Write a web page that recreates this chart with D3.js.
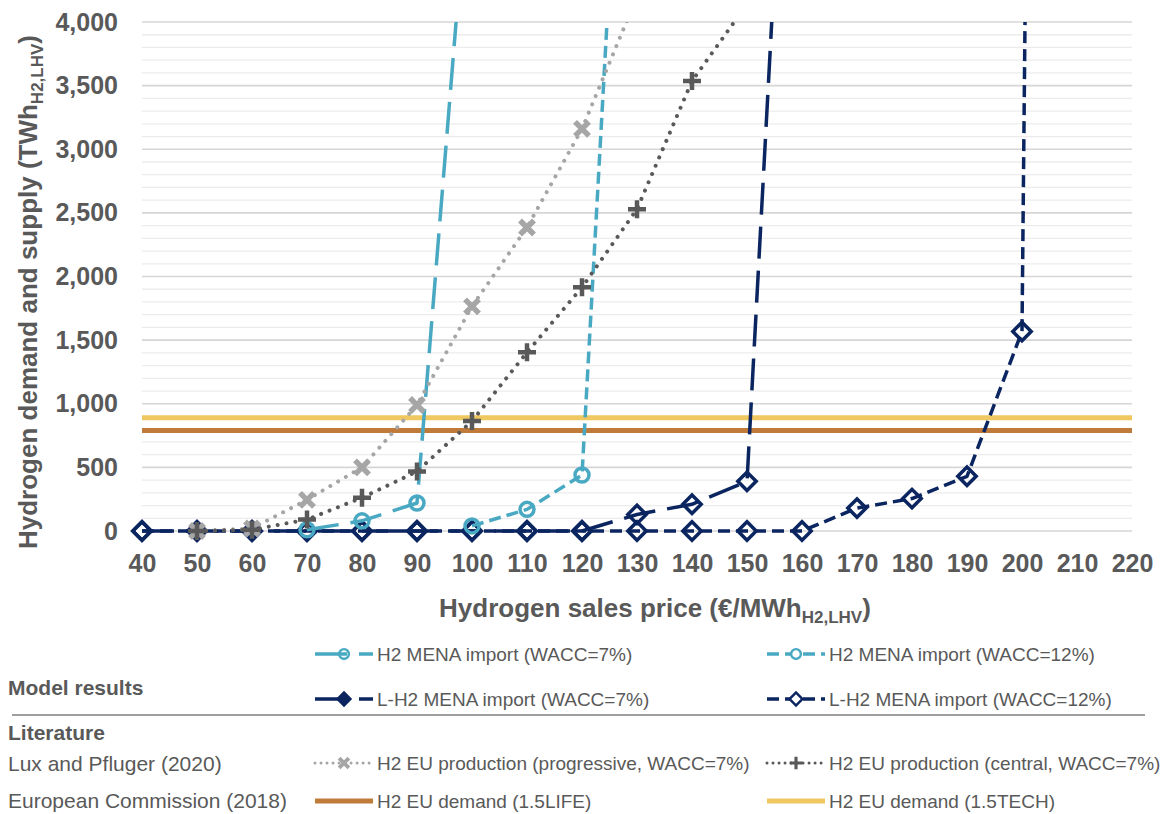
<!DOCTYPE html>
<html>
<head>
<meta charset="utf-8">
<script src="https://cdn.jsdelivr.net/npm/d3@7"></script>
<style>
  body { margin: 0; background: #fff; }
  text { font-family: "Liberation Sans", Arial, sans-serif; }
</style>
</head>
<body>
<svg id="chart" width="1176" height="814"></svg>
<script>
// ---- data ----------------------------------------------------------------
const priceTicks = d3.range(40, 221, 10);          // €/MWh
const volumeTicks = d3.range(0, 4001, 500);         // TWh
const minorVolumeTicks = d3.range(0, 4001, 100);

// H2 MENA import (WACC=7%)
const menaH2w7Price = [70, 80, 90, 100];
const menaH2w7 = [10, 80, 220, 5540];
// H2 MENA import (WACC=12%)
const menaH2w12Price = [100, 110, 120, 130];
const menaH2w12 = [40, 170, 440, 8260];
// L-H2 MENA import (WACC=7%)
const menaLH2w7Price = [40, 50, 60, 70, 80, 90, 100, 110, 120, 130, 140, 150, 160];
const menaLH2w7 = [0, 0, 0, 0, 0, 0, 0, 0, 0, 130, 210, 390, 8420];
// L-H2 MENA import (WACC=12%)
const menaLH2w12Price = [40, 50, 60, 70, 80, 90, 100, 110, 120, 130, 140, 150, 160, 170, 180, 190, 200, 210];
const menaLH2w12 = [0, 0, 0, 0, 0, 0, 0, 0, 0, 0, 0, 0, 0, 180, 255, 430, 1568, 46000];
// Lux and Pfluger (2020): H2 EU production, progressive
const euProgPrice = [50, 60, 70, 80, 90, 100, 110, 120, 130];
const euProg = [0, 20, 245, 500, 990, 1765, 2385, 3160, 4200];
// Lux and Pfluger (2020): H2 EU production, central
const euCentralPrice = [50, 60, 70, 80, 90, 100, 110, 120, 130, 140, 150];
const euCentral = [0, 10, 90, 262, 468, 864, 1404, 1915, 2529, 3536, 4140];
// European Commission (2018): H2 EU demand
const demandLife = 790;   // 1.5LIFE
const demandTech = 890;   // 1.5TECH

// ---- colours ---------------------------------------------------------------
const teal = "#4aa9c2", navy = "#0b2560", greyLight = "#a6a6a6", greyDark = "#595959";
const brown = "#c07b3a", gold = "#f0c862", labelGrey = "#595959";

const svg = d3.select("#chart");
const x = d3.scaleLinear().domain([40, 220]).range([142, 1132]);
const y = d3.scaleLinear().domain([0, 4000]).range([531, 22]);

svg.append("defs").append("clipPath").attr("id", "plotClip")
  .append("rect").attr("x", 0).attr("y", y(4000)).attr("width", 1176).attr("height", 600);

// ---- gridlines ------------------------------------------------------------
svg.append("g")
  .selectAll("line").data(minorVolumeTicks.filter(v => v % 500 !== 0)).join("line")
  .attr("x1", x(40)).attr("x2", x(220))
  .attr("y1", d => y(d)).attr("y2", d => y(d))
  .attr("stroke", "#ececec").attr("stroke-width", 1.3);
svg.append("g")
  .selectAll("line").data(volumeTicks).join("line")
  .attr("x1", x(40)).attr("x2", x(220))
  .attr("y1", d => y(d)).attr("y2", d => y(d))
  .attr("stroke", "#d6d6d6").attr("stroke-width", 1.6);

// ---- axes -------------------------------------------------------------------
const yAxis = svg.append("g").attr("transform", `translate(${x(40)},0)`)
  .call(d3.axisLeft(y).tickValues(volumeTicks).tickFormat(d3.format(",")).tickSize(0).tickPadding(24));
const xAxis = svg.append("g").attr("transform", `translate(0,${y(0)})`)
  .call(d3.axisBottom(x).tickValues(priceTicks).tickFormat(d3.format("d")).tickSize(0).tickPadding(23));
[yAxis, xAxis].forEach(g => {
  g.select(".domain").remove();
  g.selectAll("text").attr("fill", labelGrey).attr("font-size", 25).attr("font-weight", "bold")
    .attr("font-family", "'Liberation Sans', Arial, sans-serif");
});

// axis titles
const yTitle = svg.append("text")
  .attr("transform", "translate(37,292) rotate(-90)")
  .attr("text-anchor", "middle").attr("fill", labelGrey)
  .attr("font-size", 26).attr("font-weight", "bold");
yTitle.append("tspan").text("Hydrogen demand and supply (TWh");
yTitle.append("tspan").attr("font-size", 17).attr("dy", 6).text("H2,LHV");
yTitle.append("tspan").attr("dy", -6).text(")");

const xTitle = svg.append("text")
  .attr("x", 655).attr("y", 617)
  .attr("text-anchor", "middle").attr("fill", labelGrey)
  .attr("font-size", 26).attr("font-weight", "bold");
xTitle.append("tspan").text("Hydrogen sales price (€/MWh");
xTitle.append("tspan").attr("font-size", 17).attr("dy", 6).text("H2,LHV");
xTitle.append("tspan").attr("dy", -6).text(")");

// ---- marker shapes -----------------------------------------------------------
const circlePath = r => d3.symbol(d3.symbolCircle, Math.PI * r * r)();
const diamondPath = s => d3.symbol(d3.symbolSquare, s * s)();
const crossX = s => `M${-s},${-s}L${s},${s}M${-s},${s}L${s},${-s}`;
const crossPlus = s => `M${-s},0H${s}M0,${-s}V${s}`;

function drawMarker(g, kind, cx, cy, scale, legendFill) {
  const m = g.append("path").attr("transform", `translate(${cx},${cy})` + (kind === "diamond" ? " rotate(45)" : ""));
  if (kind === "circle") {
    m.attr("d", circlePath(7 * scale)).attr("fill", legendFill || "none")
      .attr("stroke", teal).attr("stroke-width", 3.5 * scale);
  } else if (kind === "diamond") {
    m.attr("d", diamondPath(13 * scale)).attr("fill", legendFill || "none")
      .attr("stroke", navy).attr("stroke-width", 3.5 * scale);
  } else if (kind === "x") {
    m.attr("d", crossX(7 * scale)).attr("fill", "none")
      .attr("stroke", greyLight).attr("stroke-width", 5.5 * scale);
  } else if (kind === "plus") {
    m.attr("d", crossPlus(9 * scale)).attr("fill", "none")
      .attr("stroke", greyDark).attr("stroke-width", 4.5 * scale);
  }
  return m;
}

// ---- series -----------------------------------------------------------------
const longDash = "32 12", shortDash = "12 6", roundDot = "0.01 9";
const series = [
  { prices: menaLH2w12Price, values: menaLH2w12, color: navy, dash: shortDash, width: 3.5, cap: "butt", marker: "diamond" },
  { prices: menaLH2w7Price, values: menaLH2w7, color: navy, dash: longDash, width: 3.5, cap: "butt", marker: "diamond" },
  { prices: menaH2w12Price, values: menaH2w12, color: teal, dash: shortDash, width: 3.5, cap: "butt", marker: "circle" },
  { prices: menaH2w7Price, values: menaH2w7, color: teal, dash: longDash, width: 3.5, cap: "butt", marker: "circle" },
  { prices: euProgPrice, values: euProg, color: greyLight, dash: roundDot, width: 4, cap: "round", marker: "x" },
  { prices: euCentralPrice, values: euCentral, color: greyDark, dash: roundDot, width: 4, cap: "round", marker: "plus" }
];

const plot = svg.append("g").attr("clip-path", "url(#plotClip)");

// demand levels (European Commission 2018)
[[demandLife, brown], [demandTech, gold]].forEach(([v, c]) => {
  plot.append("line")
    .attr("x1", x(40)).attr("x2", x(220)).attr("y1", y(v)).attr("y2", y(v))
    .attr("stroke", c).attr("stroke-width", 5);
});

const line = d3.line().x(d => x(d[0])).y(d => y(d[1]));
series.forEach(s => {
  const pts = s.prices.map((p, i) => [p, s.values[i]]);
  const g = plot.append("g");
  g.append("path").datum(pts).attr("d", line)
    .attr("fill", "none").attr("stroke", s.color).attr("stroke-width", s.width)
    .attr("stroke-dasharray", s.dash).attr("stroke-linecap", s.cap).attr("stroke-linejoin", "round");
  pts.forEach(d => drawMarker(g, s.marker, x(d[0]), y(d[1]), 1));
});

// ---- legend -------------------------------------------------------------------
const legend = svg.append("g");
const leftLabel = (txt, yy, bold) => legend.append("text").attr("x", 8).attr("y", yy)
  .attr("fill", labelGrey).attr("font-size", 21).attr("font-weight", bold ? "bold" : "normal").text(txt);
leftLabel("Model results", 695, true);
leftLabel("Literature", 740, true);
leftLabel("Lux and Pfluger (2020)", 771, false);
leftLabel("European Commission (2018)", 808, false);

legend.append("line").attr("x1", 12).attr("x2", 1145).attr("y1", 715).attr("y2", 715)
  .attr("stroke", "#7f7f7f").attr("stroke-width", 1.5);

const legendItems = [
  { x0: 315, yy: 654, color: teal, dash: longDash, marker: "circle", fill: null, width: 3.5, text: "H2 MENA import (WACC=7%)" },
  { x0: 767, yy: 654, color: teal, dash: shortDash, marker: "circle", fill: "#fff", width: 3.5, text: "H2 MENA import (WACC=12%)" },
  { x0: 315, yy: 699, color: navy, dash: longDash, marker: "diamond", fill: navy, width: 3.5, text: "L-H2 MENA import (WACC=7%)" },
  { x0: 767, yy: 699, color: navy, dash: shortDash, marker: "diamond", fill: "#fff", width: 3.5, text: "L-H2 MENA import (WACC=12%)" },
  { x0: 315, yy: 763, color: greyLight, dash: "0.01 6", marker: "x", fill: null, width: 3, cap: "round", text: "H2 EU production (progressive, WACC=7%)" },
  { x0: 767, yy: 763, color: greyDark, dash: "0.01 6", marker: "plus", fill: null, width: 3, cap: "round", text: "H2 EU production (central, WACC=7%)" },
  { x0: 315, yy: 801, color: brown, dash: null, marker: null, fill: null, width: 5, text: "H2 EU demand (1.5LIFE)" },
  { x0: 767, yy: 801, color: gold, dash: null, marker: null, fill: null, width: 5, text: "H2 EU demand (1.5TECH)" }
];
legendItems.forEach(it => {
  legend.append("line").attr("x1", it.x0).attr("x2", it.x0 + 58).attr("y1", it.yy).attr("y2", it.yy)
    .attr("stroke", it.color).attr("stroke-width", it.width)
    .attr("stroke-dasharray", it.dash).attr("stroke-linecap", it.cap || "butt");
  if (it.marker) drawMarker(legend, it.marker, it.x0 + 29, it.yy, 0.7, it.fill);
  legend.append("text").attr("x", it.x0 + 62).attr("y", it.yy + 7)
    .attr("fill", labelGrey).attr("font-size", 19).text(it.text);
});
</script>
</body>
</html>
